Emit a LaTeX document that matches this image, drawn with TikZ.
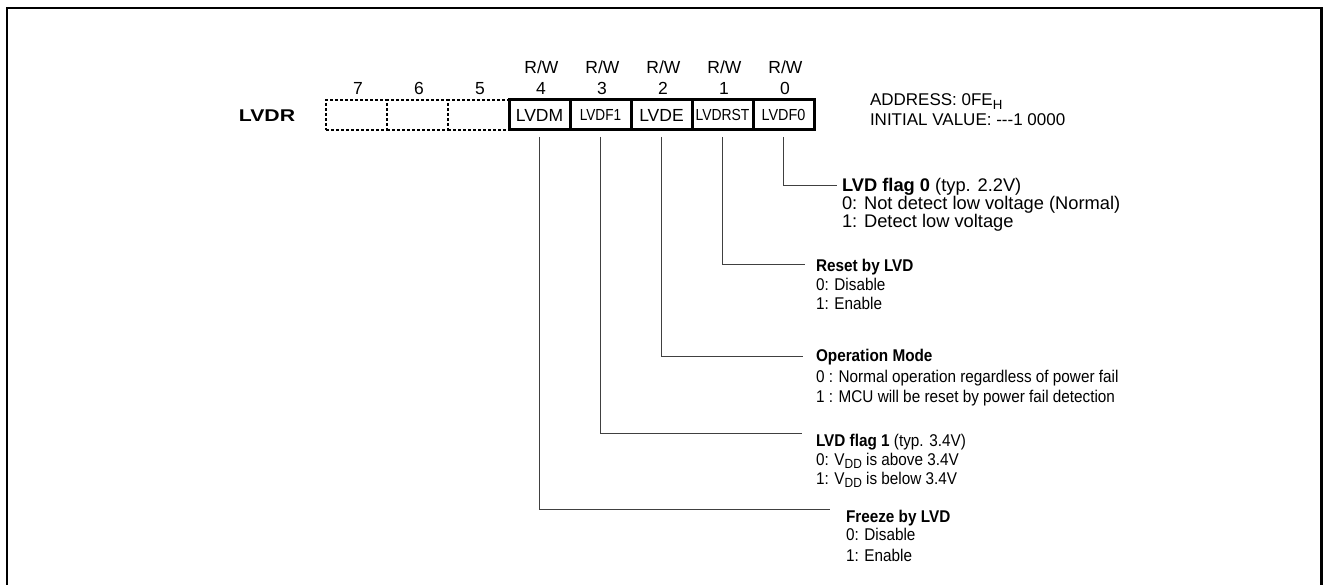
\documentclass[tikz,border=0pt]{standalone}
\usepackage{fontspec}
\setmainfont{Liberation Sans}
\usepackage{graphicx}
\newcommand{\sbs}[1]{\raisebox{-0.35ex}{\scalebox{0.78}{#1}}}
\newcommand{\nrw}[2]{\scalebox{#1}[1]{#2}}
\begin{document}
\begin{tikzpicture}[x=1pt,y=-1pt,
  every node/.style={inner sep=0pt,outer sep=0pt},
  fbig/.style={font=\fontsize{18.3}{22}\selectfont},
  fmid/.style={font=\fontsize{17}{20}\selectfont},
  cellbase/.style={minimum width=61pt,minimum height=30pt},
  cellsolid/.style={cellbase,draw,line width=3pt,font=\fontsize{17.5}{17}\selectfont},
  celldash/.style={cellbase,draw,line width=1.7pt,dash pattern=on 3pt off 2pt},
  bitlbl/.style={anchor=base,font=\fontsize{17.5}{17}\selectfont},
  desc/.style={anchor=base west,fmid},
  desczero/.style={anchor=base west,fbig},
  conn/.style={line width=1pt,draw=black!75},
  frame/.style={line width=2.5pt}]
\useasboundingbox (0,0) rectangle (1323,585);
\draw[frame] (7,585) -- (7,8) -- (1321.5,8) -- (1321.5,585);
\node[anchor=base,font=\bfseries\fontsize{17}{17}\selectfont] (lvdr) at (267,122) {\nrw{1.25}{LVDR}};
% reserved bits
\node[celldash] (b7) at (356.5,115) {};
\node[celldash] (b6) at (417.5,115) {};
\node[celldash] (b5) at (478.5,115) {};
% used bits
\node[cellsolid] (b4) at (539.5,115) {LVDM};
\node[cellsolid] (b3) at (600.5,115) {\fontsize{16}{16}\selectfont\nrw{0.85}{LVDF1}};
\node[cellsolid] (b2) at (661.5,115) {LVDE};
\node[cellsolid] (b1) at (722.5,115) {\fontsize{16}{16}\selectfont\nrw{0.87}{LVDRST}};
\node[cellsolid] (b0) at (783.5,115) {\fontsize{16}{16}\selectfont\nrw{0.9}{LVDF0}};
% bit numbers and access
\foreach \i/\x in {7/356.5,6/417.5,5/478.5,4/539.5,3/600.5,2/661.5,1/722.5,0/783.5}
  \node[bitlbl] (n\i) at (\x+1.5,95) {\i};
\foreach \i/\x in {4/539.5,3/600.5,2/661.5,1/722.5,0/783.5}
  \node[bitlbl] (rw\i) at (\x+2,74) {R/W};
% address
\node[anchor=base west,font=\fontsize{17}{17}\selectfont] (addr) at (870,106) {ADDRESS: 0FE\sbs{H}};
\node[anchor=base west,font=\fontsize{17}{17}\selectfont] (init) at (870,126) {INITIAL VALUE: -{}-{}-1 0000};
% descriptions
\node[desczero] (d0t) at (842,192) {\textbf{LVD flag 0} (typ. 2.2V)};
\node[desczero] (d0a) at (842,210) {0: Not detect low voltage (Normal)};
\node[desczero] (d0b) at (842,228) {1: Detect low voltage};
\node[desc] (d1t) at (816,272) {\nrw{0.9}{\textbf{Reset by LVD}}};
\node[desc] (d1a) at (816,291) {\nrw{0.9}{0: Disable}};
\node[desc] (d1b) at (816,310) {\nrw{0.9}{1: Enable}};
\node[desc] (d2t) at (816,362) {\nrw{0.9}{\textbf{Operation Mode}}};
\node[desc] (d2a) at (816,382) {\nrw{0.9}{0 : Normal operation regardless of power fail}};
\node[desc] (d2b) at (816,402) {\nrw{0.9}{1 : MCU will be reset by power fail detection}};
\node[desc] (d3t) at (816,446) {\nrw{0.9}{\textbf{LVD flag 1} (typ. 3.4V)}};
\node[desc] (d3a) at (816,465) {\nrw{0.9}{0: V\sbs{DD} is above 3.4V}};
\node[desc] (d3b) at (816,484) {\nrw{0.9}{1: V\sbs{DD} is below 3.4V}};
\node[desc] (d4t) at (846,522) {\nrw{0.9}{\textbf{Freeze by LVD}}};
\node[desc] (d4a) at (846,540) {\nrw{0.9}{0: Disable}};
\node[desc] (d4b) at (846,561) {\nrw{0.9}{1: Enable}};
% connectors
\coordinate (e0) at (837,186);
\coordinate (e1) at (805,265);
\coordinate (e2) at (803,357);
\coordinate (e3) at (802,433.5);
\coordinate (e4) at (830,509);
\draw[conn] ([yshift=-7pt]b0.south) |- (e0);
\draw[conn] ([yshift=-7pt]b1.south) |- (e1);
\draw[conn] ([yshift=-7pt]b2.south) |- (e2);
\draw[conn] ([yshift=-7pt]b3.south) |- (e3);
\draw[conn] ([yshift=-7pt]b4.south) |- (e4);
\end{tikzpicture}
\end{document}
